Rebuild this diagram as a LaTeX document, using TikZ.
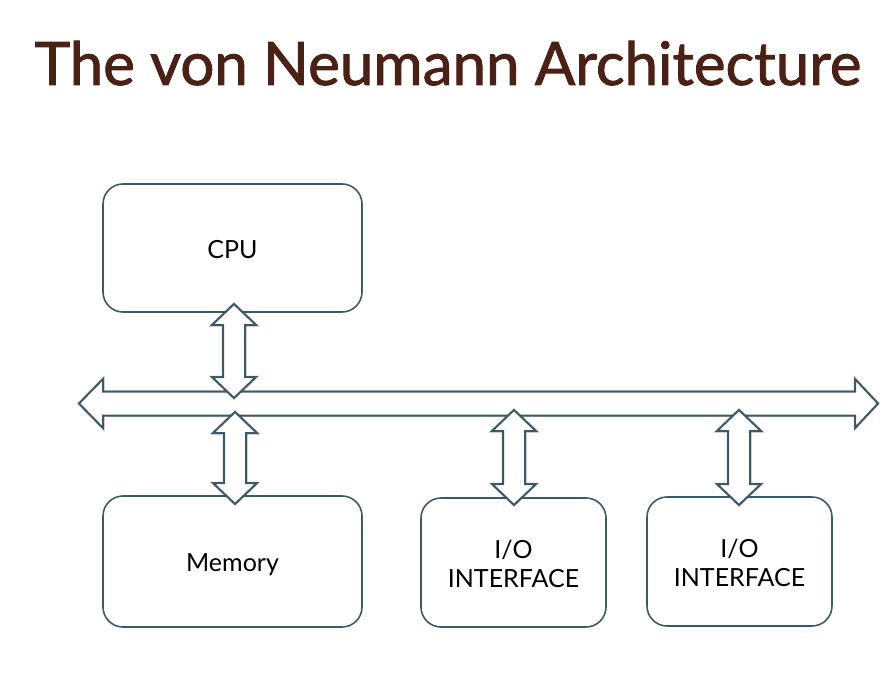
\documentclass[tikz,border=0pt]{standalone}
\usepackage{fontspec}
\setmainfont{Lato}
\newfontfamily\titlefont[FakeBold=1.5]{Lato}
\usetikzlibrary{calc}
\definecolor{titlebrown}{HTML}{4A2116}
\definecolor{edge}{HTML}{3E5966}
\tikzset{
  box/.style={draw=edge, line width=1.6pt, rounded corners=20pt, fill=white},
  lbl/.style={align=center, font=\fontsize{25}{29}\selectfont, text=black},
  blockarrow/.style={draw=edge, line width=2pt, fill=white, line join=miter},
  shadowline/.style={draw=black, opacity=0.18, line width=3pt},
}
\newcommand{\vdarrow}[3]{% x, ytop, ybottom
  \foreach \st in {shadowline,blockarrow}{
  \path[\st] (#1,#2) -- ++(22,21) -- ++(-11,0) -- (#1+11,#3-21) -- ++(11,0) -- (#1,#3) -- ++(-22,-21) -- ++(11,0) -- (#1-11,#2+21) -- ++(-11,0) -- cycle;}
}
\begin{document}
\begin{tikzpicture}[x=1pt,y=-1pt]
\useasboundingbox (0,0) rectangle (896,674);
\fill[white] (0,0) rectangle (896,674);
\node[font=\titlefont\fontsize{60}{70}\selectfont, text=titlebrown, anchor=base] (title) at (448,85) {The von Neumann Architecture};

\node[box, minimum width=259pt, minimum height=128pt] (cpu) at (232.5,248) {};
\node[box, minimum width=259pt, minimum height=131pt] (mem) at (232.5,561.5) {};
\node[box, minimum width=185pt, minimum height=129pt] (io1) at (513.5,562.5) {};
\node[box, minimum width=185pt, minimum height=129pt] (io2) at (739.5,561.5) {};

\node[lbl] (cpuT) at ([yshift=-1.5pt]cpu.center) {CPU};
\node[lbl] (memT) at ([yshift=-3.5pt]mem.center) {Memory};
\node[lbl] (io1T) at ([yshift=-1.5pt]io1.center) {I/O\\INTERFACE};
\node[lbl] (io2T) at ([yshift=-1.5pt]io2.center) {I/O\\INTERFACE};

% bus
\coordinate (busL) at (79,403.5);
\coordinate (busR) at (878,403.5);
\foreach \st in {shadowline,blockarrow}{
\path[\st] (busL) -- ++(24,-24.5) -- ++(0,12.5) -- (855,391.5) -- ++(0,-12.5) -- (busR) -- ++(-23,24.5) -- ++(0,-12.5) -- (103,415.5) -- ++(0,12.5) -- cycle;}

\vdarrow{234}{304}{398}
\vdarrow{235}{412}{504}
\vdarrow{514}{410}{505}
\vdarrow{739}{410}{505}
\end{tikzpicture}
\end{document}
